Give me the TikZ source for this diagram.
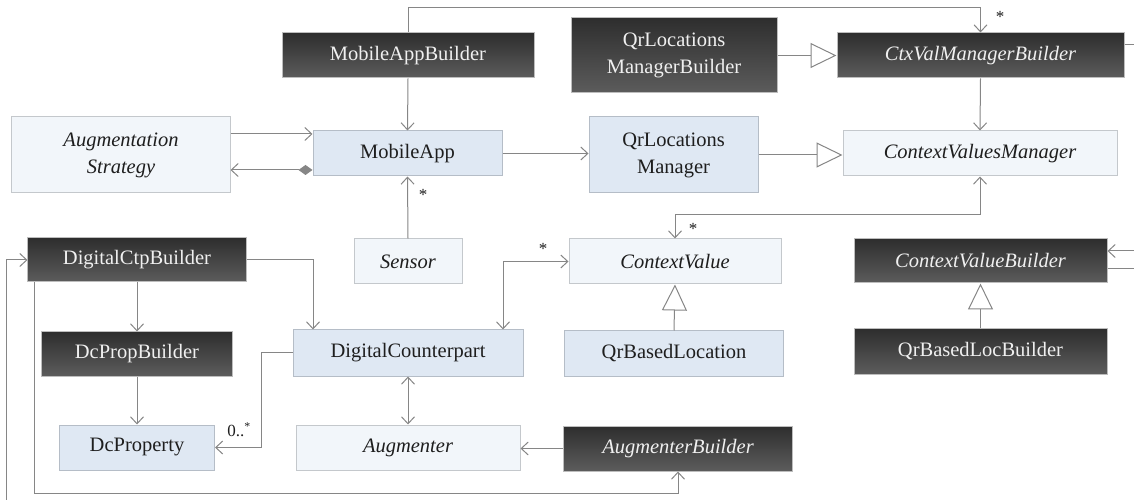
\documentclass[tikz,border=0pt]{standalone}
\usepackage{fontspec}
\setmainfont{Liberation Serif}
\usetikzlibrary{arrows.meta}
\definecolor{lnc}{HTML}{868686}
\definecolor{darktop}{HTML}{2E2E2E}
\definecolor{darkbot}{HTML}{5C5C5C}
\definecolor{darkbd}{HTML}{BDBDBD}
\definecolor{bluefill}{HTML}{DFE8F3}
\definecolor{bluebd}{HTML}{B5BDC7}
\definecolor{palefill}{HTML}{F2F6FA}
\definecolor{palebd}{HTML}{C4C8CC}
\definecolor{txt}{HTML}{1E1E1E}
\begin{document}
\begin{tikzpicture}[x=1bp,y=-1bp,
  >={Straight Barb[length=7bp,width=13bp]},
  box/.style={draw, line width=1bp, inner sep=0pt, align=center,
    font=\fontsize{20.5bp}{27bp}\selectfont},
  dark/.style={box, draw=darkbd, top color=darktop, bottom color=darkbot, text=white!94!black},
  blue/.style={box, draw=bluebd, fill=bluefill, text=txt},
  pale/.style={box, draw=palebd, fill=palefill, text=txt},
  it/.style={font=\fontsize{20.5bp}{27bp}\selectfont\itshape},
  conn/.style={draw=lnc, line width=1bp},
  gen/.style={-{Triangle[open,length=26bp,width=25bp,fill=white]}},
  comp/.style={{Diamond[length=14bp,width=10bp,color=lnc,fill=lnc]}->},
  lab/.style={inner sep=0pt, text=txt, font=\fontsize{17bp}{20bp}\selectfont}
]
\useasboundingbox (0,0) rectangle (1134,500);

% nodes
\node[dark, minimum width=252bp, minimum height=45bp] (MAB) at (408,55.5) {MobileAppBuilder};
\node[dark, minimum width=206bp, minimum height=75bp] (QLMB) at (674,55.5) {QrLocations\\ManagerBuilder};
\node[dark, it, minimum width=287bp, minimum height=45bp] (CVMB) at (980.5,55.5) {CtxValManagerBuilder};
\node[pale, it, minimum width=218bp, minimum height=76bp] (AS) at (121,155) {Augmentation\\Strategy};
\node[blue, minimum width=189bp, minimum height=45bp] (MA) at (407.5,153.5) {MobileApp};
\node[blue, minimum width=169bp, minimum height=76bp] (QLM) at (673.5,155) {QrLocations\\Manager};
\node[pale, it, minimum width=274bp, minimum height=45bp] (CVM) at (980,153.5) {ContextValuesManager};
\node[dark, minimum width=218bp, minimum height=44bp] (DCB) at (137,260) {DigitalCtpBuilder};
\node[pale, it, minimum width=108bp, minimum height=45bp] (SEN) at (408,261.5) {Sensor};
\node[pale, it, minimum width=212bp, minimum height=45bp] (CV) at (675,261.5) {ContextValue};
\node[dark, it, minimum width=253bp, minimum height=44bp] (CVB) at (980.5,261) {ContextValueBuilder};
\node[dark, minimum width=190bp, minimum height=44bp] (DPB) at (137,354) {DcPropBuilder};
\node[blue, minimum width=230bp, minimum height=46bp] (DC) at (408,353) {DigitalCounterpart};
\node[blue, minimum width=219bp, minimum height=45bp] (QBL) at (674,353.5) {QrBasedLocation};
\node[dark, minimum width=253bp, minimum height=45bp] (QBLB) at (980.5,351.5) {QrBasedLocBuilder};
\node[blue, minimum width=155bp, minimum height=45bp] (DP) at (137,447.5) {DcProperty};
\node[pale, it, minimum width=224bp, minimum height=45bp] (AUG) at (408,447.5) {Augmenter};
\node[dark, it, minimum width=229bp, minimum height=45bp] (AB) at (678,448.5) {AugmenterBuilder};

% free ends
\coordinate (r1) at (1134,45);
\coordinate (r2) at (1134,251);
\coordinate (r3) at (1134,269);
\coordinate (l1) at (6,500);

% connectors
\draw[conn,->] (MAB.north) -- ++(0,-25) -| (CVMB.north);
\draw[conn,->] (MAB.south) -- (MA.north);
\draw[conn,->] (AS.east |- 0,134) -- (MA.west |- 0,134);
\draw[conn,comp] (MA.west |- 0,170) -- (AS.east |- 0,170);
\draw[conn,->] (MA.east) -- (MA.east -| QLM.west);
\draw[conn,gen] (QLM.east) -- (QLM.east -| CVM.west);
\draw[conn,gen] (QLMB.east) -- (QLMB.east -| CVMB.west);
\draw[conn,->] (CVMB.south) -- (CVM.north);
\draw[conn,<->] (CVM.south) -- ++(0,38) -| (CV.north);
\draw[conn,->] (SEN.north) -- (MA.south);
\draw[conn,<->] ([xshift=95bp]DC.north) |- (CV.west);
\draw[conn,->] (DCB.east) -| ([xshift=-95bp]DC.north);
\draw[conn,->] (DCB.south) -- (DPB.north);
\draw[conn,->] (DPB.south) -- (DP.north);
\draw[conn,->] (DC.west) -- ++(-31,0) |- (DP.east);
\draw[conn,<->] (DC.south) -- (AUG.north);
\draw[conn,->] (AB.west) -- (AB.west -| AUG.east);
\draw[conn,->] ([xshift=7bp]DCB.south west) -- ++(0,211) -| (AB.south);
\draw[conn,->] (l1) |- (DCB.west);
\draw[conn,gen] (QBL.north) -- (CV.south);
\draw[conn,gen] (QBLB.north) -- (CVB.south);
\draw[conn] (CVMB.east |- r1) -- (r1);
\draw[conn,->] (r2) -- (r2 -| CVB.east);
\draw[conn] (r3 -| CVB.east) -- (r3);

% labels
\node[lab] (s1) at (1000,17) {*};
\node[lab] (s2) at (693,229) {*};
\node[lab] (s3) at (423,195) {*};
\node[lab] (s4) at (543,249) {*};
\node[lab] (s5) at (239,430) {0..\textsuperscript{*}};
\end{tikzpicture}
\end{document}
